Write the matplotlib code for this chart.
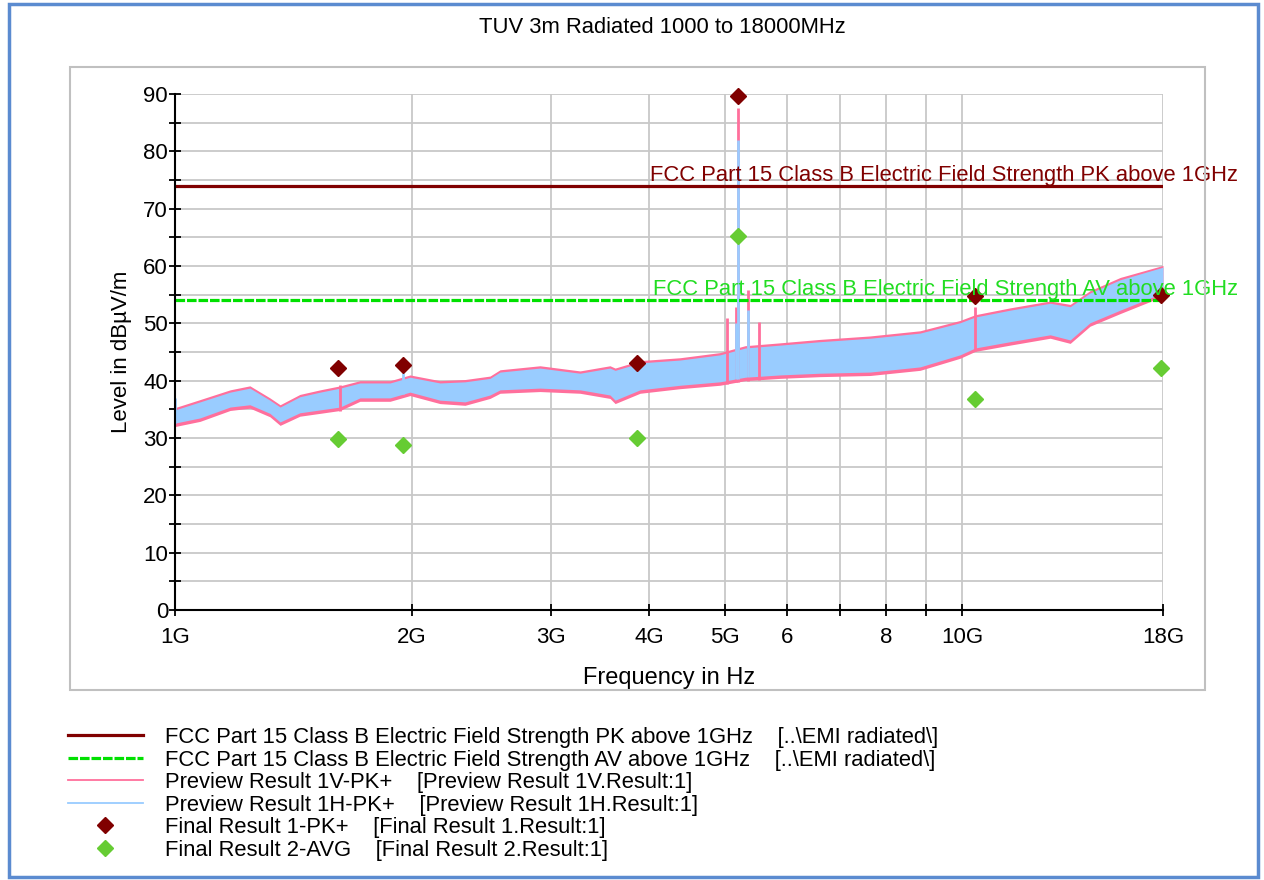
import matplotlib
matplotlib.use("Agg")
import matplotlib.pyplot as plt
import numpy as np
from matplotlib.lines import Line2D
from matplotlib.patches import Rectangle
from matplotlib.ticker import FixedLocator, NullFormatter

plt.rcParams['font.family'] = ['Liberation Sans', 'DejaVu Sans']

freq_ghz = [1.00, 1.076, 1.175, 1.245, 1.320, 1.360, 1.441, 1.529, 1.621, 1.718, 1.876,
            1.989, 2.171, 2.336, 2.513, 2.588, 2.909, 3.270, 3.570, 3.624, 3.898, 4.382,
            4.926, 5.302, 5.872, 6.600, 7.641, 8.843, 9.94, 10.39, 11.51, 12.94, 13.72,
            14.54, 15.88, 18.0]
h_high = [34.9, 36.3, 38.0, 38.7, 36.6, 35.4, 37.2, 38.0, 38.7, 39.6, 39.6,
          40.6, 39.6, 39.8, 40.4, 41.5, 42.2, 41.3, 42.2, 41.8, 43.1, 43.6,
          44.5, 45.7, 46.2, 46.8, 47.4, 48.3, 50.1, 51.1, 52.3, 53.5, 52.9,
          55.3, 57.6, 59.8]
h_low = [32.6, 33.5, 35.4, 35.8, 34.3, 32.8, 34.4, 34.9, 35.4, 37.0, 37.0,
         38.0, 36.6, 36.3, 37.5, 38.4, 38.7, 38.4, 37.5, 36.6, 38.4, 39.2,
         39.8, 40.6, 41.0, 41.3, 41.5, 42.4, 44.5, 45.7, 46.8, 48.0, 47.1,
         50.1, 52.3, 55.3]
v_high = [35.3, 36.7, 38.4, 39.1, 37.0, 35.8, 37.6, 38.4, 39.1, 40.0, 40.0,
          41.0, 40.0, 40.2, 40.8, 41.9, 42.6, 41.7, 42.6, 42.2, 43.5, 44.0,
          44.9, 46.1, 46.6, 47.2, 47.8, 48.7, 50.5, 51.5, 52.7, 53.9, 53.3,
          55.7, 58.0, 60.1]
v_low = [32.0, 32.9, 34.8, 35.2, 33.7, 32.2, 33.8, 34.3, 34.8, 36.4, 36.4,
         37.4, 36.0, 35.7, 36.9, 37.8, 38.1, 37.8, 36.9, 36.0, 37.8, 38.6,
         39.2, 40.0, 40.4, 40.7, 40.9, 41.8, 43.9, 45.1, 46.2, 47.4, 46.5,
         49.5, 51.7, 54.7]

# narrow spikes above the noise floor
v_spike_freq = [1.62, 5.02, 5.16, 5.19, 5.34, 5.52, 10.39]
v_spike_level = [39.2, 50.9, 52.9, 87.5, 55.8, 50.2, 52.9]
h_spike_freq = [1.0, 1.95, 5.16, 5.19, 5.34]
h_spike_level = [37.0, 41.3, 50.0, 82.0, 52.3]

# limit lines
limit_freq = [1.0, 18.0]
pk_limit = [74.0, 74.0]
av_limit = [54.0, 54.0]

# final measurements
final_freq = [1.611, 1.949, 3.865, 5.194, 10.39, 17.9]
pk_level = [42.2, 42.7, 43.0, 89.6, 54.8, 54.9]
avg_level = [29.8, 28.8, 30.0, 65.2, 36.8, 42.2]

x_ticks = [1, 2, 3, 4, 5, 6, 8, 10, 18]
x_tick_labels = ['1G', '2G', '3G', '4G', '5G', '6', '8', '10G', '18G']
x_minor = [7, 9]

RED = '#800000'
GREEN = '#00e000'
PINK = '#ff6f9c'
BLUE = '#99ccff'
AVG_GREEN = '#66cc33'

fig = plt.figure(figsize=(12.64, 8.8), dpi=100)
W, H = 1264, 880

# outer blue frame and grey panel
fig.add_artist(Rectangle((9 / W, 3 / H), 1249 / W, 873 / H, transform=fig.transFigure,
                         fill=False, edgecolor='#5b8bd0', lw=2.5))
fig.add_artist(Rectangle((70 / W, 1 - 690 / H), 1135 / W, 623 / H, transform=fig.transFigure,
                         fill=False, edgecolor='#c0c0c0', lw=1.5))

ax = fig.add_axes([175 / W, 1 - 610 / H, 988 / W, 516 / H])
ax.set_xscale('log')
ax.set_xlim(1, 18)
ax.set_ylim(0, 90)

ax.fill_between(freq_ghz, v_low, v_high, color=PINK, lw=0)
ax.fill_between(freq_ghz, h_low, h_high, color=BLUE, lw=0)
ax.vlines(v_spike_freq, np.interp(v_spike_freq, freq_ghz, v_low), v_spike_level,
          color=PINK, lw=2)
ax.vlines(h_spike_freq, np.interp(h_spike_freq, freq_ghz, h_low), h_spike_level,
          color=BLUE, lw=2)

ax.plot(limit_freq, pk_limit, color=RED, lw=2.3)
ax.plot(limit_freq, av_limit, color=GREEN, lw=2.3, ls=(0, (3, 0.6)))

ax.plot(final_freq, pk_level, 'D', color=RED, ms=8.5, ls='none', clip_on=False)
ax.plot(final_freq, avg_level, 'D', color=AVG_GREEN, ms=8.5, ls='none', clip_on=False)

ax.text(1.076, 74.87, 'FCC Part 15 Class B Electric Field Strength PK above 1GHz',
        transform=ax.get_yaxis_transform(), ha='right', va='baseline',
        color=RED, fontsize=15.8, clip_on=False)
ax.text(1.076, 54.87, 'FCC Part 15 Class B Electric Field Strength AV above 1GHz',
        transform=ax.get_yaxis_transform(), ha='right', va='baseline',
        color='#22dd22', fontsize=15.8, clip_on=False)

ax.set_xticks(x_ticks)
ax.set_xticklabels(x_tick_labels)
ax.xaxis.set_minor_locator(FixedLocator(x_minor))
ax.xaxis.set_minor_formatter(NullFormatter())
ax.set_yticks(range(0, 91, 10))
ax.yaxis.set_minor_locator(FixedLocator(range(5, 90, 10)))

ax.grid(which='both', color='#c8c8c8', lw=1.3)
ax.set_axisbelow(True)
for side in ['top', 'right']:
    ax.spines[side].set_visible(False)
for side in ['left', 'bottom']:
    ax.spines[side].set_linewidth(1.5)
ax.tick_params(which='both', direction='inout', length=8, width=1.3, labelsize=16)
ax.tick_params(axis='y', pad=1)
ax.tick_params(axis='x', pad=8)

ax.set_xlabel('Frequency in Hz', fontsize=17, labelpad=14)
ax.set_ylabel('Level in dB\u00b5V/m', fontsize=16, labelpad=8)

fig.suptitle('TUV 3m Radiated 1000 to 18000MHz', x=662 / W, y=1 - 17 / H, fontsize=15.8, va='top')

handles = [
    Line2D([], [], color=RED, lw=2.3),
    Line2D([], [], color=GREEN, lw=2.3, ls=(0, (3, 0.6))),
    Line2D([], [], color=PINK, lw=1.3),
    Line2D([], [], color=BLUE, lw=1.3),
    Line2D([], [], color=RED, marker='D', ms=8.5, ls='none'),
    Line2D([], [], color=AVG_GREEN, marker='D', ms=8.5, ls='none'),
]
labels = [
    'FCC Part 15 Class B Electric Field Strength PK above 1GHz    [..\\EMI radiated\\]',
    'FCC Part 15 Class B Electric Field Strength AV above 1GHz    [..\\EMI radiated\\]',
    'Preview Result 1V-PK+    [Preview Result 1V.Result:1]',
    'Preview Result 1H-PK+    [Preview Result 1H.Result:1]',
    'Final Result 1-PK+    [Final Result 1.Result:1]',
    'Final Result 2-AVG    [Final Result 2.Result:1]',
]
fig.legend(handles, labels, loc='upper left', bbox_to_anchor=(68 / W, 1 - 727 / H),
           frameon=False, fontsize=15.8, handlelength=3.4, handletextpad=1.0,
           labelspacing=0.07, borderpad=0, borderaxespad=0, numpoints=1)

fig.savefig('out.png', dpi=100)
